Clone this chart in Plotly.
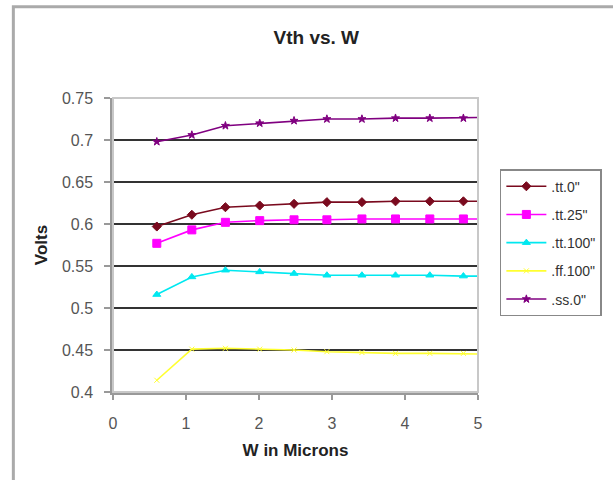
import plotly.graph_objects as go

# Channel width (microns); the last sample sits just past the axis end
w_um = [0.6, 1.08, 1.54, 2.01, 2.48, 2.93, 3.41, 3.87, 4.34, 4.80, 5.27]

# Threshold voltage per process corner / temperature
vth_tt_0 = [0.597, 0.611, 0.620, 0.622, 0.624, 0.626, 0.626, 0.627, 0.627, 0.627, 0.627]
vth_tt_25 = [0.577, 0.593, 0.602, 0.604, 0.605, 0.605, 0.606, 0.606, 0.606, 0.606, 0.606]
vth_tt_100 = [0.516, 0.537, 0.545, 0.543, 0.541, 0.539, 0.539, 0.539, 0.539, 0.538, 0.538]
vth_ff_100 = [0.414, 0.451, 0.452, 0.451, 0.450, 0.448, 0.447, 0.446, 0.446, 0.446, 0.445]
vth_ss_0 = [0.698, 0.706, 0.717, 0.720, 0.723, 0.725, 0.725, 0.726, 0.726, 0.726, 0.727]

series_names = ['.tt.0"', '.tt.25"', '.tt.100"', '.ff.100"', '.ss.0"']
y_ticks = [0.4, 0.45, 0.5, 0.55, 0.6, 0.65, 0.7, 0.75]
y_tick_text = ["0.4", "0.45", "0.5", "0.55", "0.6", "0.65", "0.7", "0.75"]
x_ticks = [0, 1, 2, 3, 4, 5]

series = [vth_tt_0, vth_tt_25, vth_tt_100, vth_ff_100, vth_ss_0]
colors = ["#7a0a1e", "#ff00ff", "#00e8f0", "#ffff30", "#800080"]
symbols = ["diamond", "square", "triangle-up", "x-thin", "star"]
sizes = [7, 8, 7, 5, 6]

fig = go.Figure()
for i, (name, ys) in enumerate(zip(series_names, series)):
    fig.add_trace(go.Scatter(
        x=w_um, y=ys, name=name, mode="lines+markers",
        legendgroup=f"g{i}",
        line=dict(color=colors[i], width=1.6),
        marker=dict(symbol=symbols[i], size=sizes[i], color=colors[i],
                    line=dict(color=colors[i], width=1)),
    ))

# plot-area frame (light) and the outer chart frame
fig.add_shape(type="rect", xref="paper", yref="paper", x0=0, x1=1, y0=0, y1=1,
              line=dict(color="#c8c8c8", width=2), layer="above")
fig.add_shape(type="rect", xref="paper", yref="paper", x0=-0.273, x1=1.4, y0=-0.35, y1=1.31,
              line=dict(color="#aaaaaa", width=3), layer="below")

fig.update_layout(
    width=613, height=480,
    margin=dict(l=113, r=134, t=98, b=88),
    paper_bgcolor="white", plot_bgcolor="white",
    font=dict(family="Liberation Sans, Arial, sans-serif", color="#444"),
    title=dict(text="<b>Vth vs. W</b>", x=0.557, xref="paper", xanchor="center",
               y=1 - 37 / 480, yref="container", yanchor="middle",
               font=dict(size=19, color="#222")),
    showlegend=True,
    legend=dict(x=1.057, xanchor="left", y=0.758, yanchor="top",
                bordercolor="#888", borderwidth=1.5, bgcolor="white",
                font=dict(size=14, color="#333"), itemwidth=40,
                tracegroupgap=7, traceorder="grouped"),
)

fig.update_xaxes(
    range=[0, 5], tickvals=x_ticks, showgrid=False, zeroline=False,
    showline=True, linecolor="#999", linewidth=2.5,
    ticks="outside", ticklen=5, tickcolor="#999", tickwidth=1.5,
    ticklabelstandoff=10, tickfont=dict(size=16, color="#555"),
    title=dict(text="<b>W in Microns</b>", font=dict(size=17, color="#222"), standoff=14),
)
fig.update_yaxes(
    range=[0.4, 0.75], tickvals=y_ticks, ticktext=y_tick_text,
    showgrid=True, gridcolor="#333", gridwidth=1.5, zeroline=False,
    showline=True, linecolor="#999", linewidth=2.5,
    ticks="outside", ticklen=6, tickcolor="#999", tickwidth=1.5,
    ticklabelstandoff=8, tickfont=dict(size=16, color="#555"),
    title=dict(text="<b>Volts</b>", font=dict(size=17, color="#222"), standoff=10),
)

fig.write_html("out.html")
